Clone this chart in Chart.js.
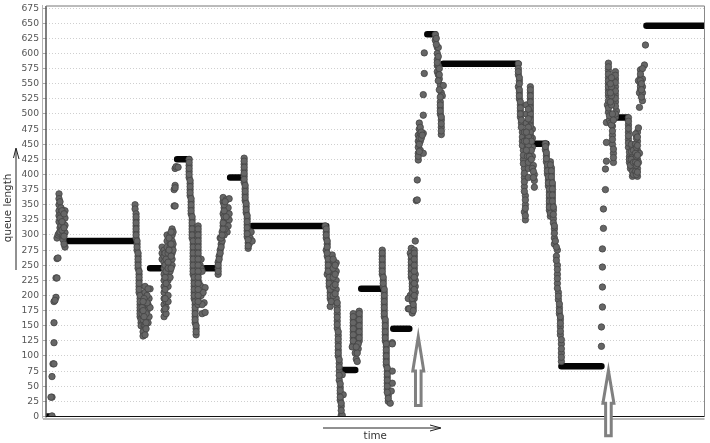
<!DOCTYPE html>
<html><head><meta charset="utf-8">
<style>html,body{margin:0;padding:0;background:#fff}#w{width:710px;height:443px;position:relative}#c{filter:blur(0.45px)}</style>
<script src="https://cdn.jsdelivr.net/npm/chart.js@4"></script>
</head><body><div id="w"><canvas id="c" width="710" height="443"></canvas></div>
<script>
// queue length levels where the queue is held flat: [start time, end time, queue length]
const flatRuns=[[0,6,0],[19,89,290],[104,115,245],[131,143,425],[159,169,245],[184,197,395],[206,280,315],[297,309,77],[315,336,211],[347,363,145],[381,389,632],[397,472,583],[488,500,451],[515,555,83],[571,581,494],[600,658,646]];
// samples: [time, queue length]
const rampA=[[6,1],[6,32],[5,32],[6,66],[7,87],[8,87],[8,122],[8,155],[8,190],[10,197],[9,192],[10,229],[11,229],[11,261],[12,262],[11,295],[12,300],[13,303]];
const clusterA=[[13,368],[13,360],[13,350],[13,340],[13,332],[13,322],[14,312],[14,305],[15,345],[15,335],[15,325],[15,315],[17,340],[17,330],[17,320],[17,310],[17,300],[17,292],[19,340],[19,328],[19,316],[19,304],[19,280],[18,285],[14,355],[14,328],[16,340],[16,322],[16,308],[18,335],[18,312],[18,298]];
const dropB=[[89,350],[89,343],[90,335],[90,325],[90,315],[90,305],[90,295],[91,285],[91,275],[92,265],[92,255],[92,245],[93,235],[93,225],[93,215],[93,205],[94,195],[94,185],[94,175],[94,165],[95,155],[95,150],[90,330],[90,320],[90,310],[90,300],[91,290],[91,280],[92,270],[92,260],[92,250],[93,240],[93,230],[93,220],[93,210],[94,200],[94,190],[94,180],[94,170],[95,160]];
const blobB=[[96,170],[97,160],[98,150],[98,145],[97,140],[97,133],[99,135],[99,150],[99,165],[98,180],[100,190],[99,205],[99,215],[102,185],[101,175],[103,195],[104,180],[103,165],[102,155],[100,170],[101,200],[104,211],[102,211],[96,180],[97,175],[98,165],[100,155],[100,145],[101,188],[98,195],[97,190]];
const clusterC=[[116,280],[116,270],[116,260],[118,275],[118,265],[118,255],[118,245],[118,235],[118,225],[118,215],[118,205],[118,195],[118,185],[118,175],[118,165],[120,170],[120,180],[120,190],[122,235],[122,225],[122,215],[122,200],[122,190],[121,300],[121,290],[121,280],[124,300],[124,290],[124,280],[124,270],[124,260],[124,250],[124,240],[124,230],[126,310],[126,300],[126,290],[126,280],[126,270],[126,260],[126,250],[127,305],[127,285],[127,275],[119,270],[119,250],[119,230],[119,210],[119,195],[119,178],[120,260],[120,240],[120,220],[122,270],[122,255],[122,245],[123,295],[123,275],[125,305],[125,285],[125,265],[125,245]];
const jumpD=[[128,348],[129,348],[128,375],[129,382],[129,378],[129,410],[130,413],[132,412]];
const dropD=[[143,425],[143,415],[143,405],[143,395],[144,385],[144,375],[144,365],[145,355],[145,345],[145,335],[146,325],[146,315],[146,305],[146,295],[147,285],[147,275],[147,265],[147,255],[147,245],[147,235],[148,225],[148,215],[148,205],[148,195],[149,185],[149,175],[149,165],[149,155],[150,145],[150,135],[143,420],[143,410],[143,400],[144,390],[144,380],[144,370],[145,360],[145,350],[145,340],[146,330],[146,320],[146,310],[146,300],[147,290],[147,280],[147,270],[147,260],[147,250],[147,240],[148,230],[148,220],[148,210],[148,200],[149,190],[149,180],[149,170],[149,160],[150,150],[150,140]];
const columnD=[[152,315],[152,305],[152,295],[152,285],[152,275],[152,265],[152,255],[152,245],[152,235],[152,225],[152,215],[152,205],[152,195],[152,185],[154,250],[155,260],[155,245],[156,240],[153,220],[155,215],[155,200],[159,213],[157,205],[158,188],[156,185],[156,170],[159,172],[152,310],[152,300],[152,290],[152,280],[152,270],[152,260],[152,250],[152,240],[152,230],[152,220],[152,210],[152,200],[152,190]];
const riseE=[[172,235],[172,245],[172,255],[173,265],[174,275],[175,285],[174,295],[176,305],[176,290],[177,315],[178,325],[177,335],[178,345],[177,355],[177,362],[180,358],[180,340],[180,320],[181,305],[183,360],[182,345],[183,325],[182,315],[178,300],[179,310],[183,335],[172,240],[172,250],[173,260],[174,270],[175,280],[175,295],[176,300],[177,310],[177,320],[178,330],[178,340],[178,350],[179,355],[180,330]];
const dropF=[[198,427],[198,417],[198,407],[198,397],[198,387],[199,377],[199,367],[199,357],[200,347],[200,337],[201,327],[201,317],[201,307],[201,297],[202,287],[202,278],[203,285],[204,295],[205,305],[206,290],[198,422],[198,412],[198,402],[198,392],[199,382],[199,372],[199,362],[200,352],[200,342],[201,332],[201,322],[201,312],[201,302],[202,292],[202,282]];
const dropG=[[279,315],[280,305],[280,295],[281,285],[280,275],[281,265],[282,255],[282,245],[281,235],[283,225],[283,215],[284,205],[284,195],[284,182],[286,267],[285,250],[286,235],[286,220],[286,205],[286,190],[288,255],[288,240],[288,225],[288,210],[288,195],[290,254],[290,240],[290,225],[290,210],[290,195],[291,182],[291,170],[291,158],[291,146],[292,134],[292,122],[292,110],[292,100],[293,88],[293,75],[293,60],[294,48],[294,38],[294,27],[295,17],[295,2],[297,36],[296,69],[296,2],[280,310],[280,300],[281,290],[281,280],[281,270],[282,260],[282,250],[282,240],[283,230],[283,220],[284,210],[284,200],[285,190],[287,260],[287,245],[287,230],[287,215],[287,200],[289,250],[289,235],[289,218],[289,203],[291,188],[291,176],[291,164],[291,152],[292,140],[292,128],[292,116],[292,105],[293,94],[293,82],[293,68],[294,54],[294,43],[294,32],[295,22],[295,10]];
const clusterH=[[307,170],[307,160],[307,150],[307,140],[307,130],[307,120],[306,115],[309,105],[310,95],[311,91],[310,125],[313,174],[313,165],[313,155],[313,145],[313,135],[313,125],[312,112],[309,150],[310,135],[307,165],[307,155],[307,145],[307,135],[307,125],[313,170],[313,160],[313,150],[313,140],[313,130],[312,120],[311,105],[310,115]];
const dropI=[[336,275],[336,265],[336,255],[336,245],[336,235],[337,225],[337,215],[338,205],[338,195],[338,185],[338,175],[338,165],[339,155],[339,145],[339,135],[339,125],[340,115],[340,105],[340,95],[340,85],[341,75],[341,65],[341,55],[341,45],[342,35],[342,25],[344,22],[346,122],[346,120],[346,75],[346,55],[345,42],[336,270],[336,260],[336,250],[336,240],[337,230],[337,220],[338,210],[338,200],[338,190],[338,180],[338,170],[339,160],[339,150],[339,140],[339,130],[340,120],[340,110],[340,100],[340,90],[341,80],[341,70],[341,60],[341,50],[341,40],[342,30]];
const clusterJ=[[369,290],[365,278],[364,270],[365,260],[365,250],[365,240],[365,230],[366,220],[366,210],[364,200],[366,190],[367,180],[366,171],[368,275],[368,265],[368,255],[368,245],[369,235],[369,225],[369,215],[369,205],[362,195],[368,195],[362,178],[363,178],[365,265],[365,255],[365,245],[365,235],[366,225],[366,215],[366,205],[366,195],[367,185],[367,175],[368,270],[368,260],[368,250],[368,240],[368,230],[368,220],[368,210],[368,200]];
const rampK=[[370,357],[371,358],[371,391],[372,424],[372,435],[372,445],[372,455],[372,465],[373,475],[373,485],[374,478],[374,468],[374,455],[374,440],[372,430],[377,468],[377,435],[377,498],[377,532],[378,567],[378,601],[373,450],[373,460],[373,438],[375,470],[375,460],[376,465]];
const dropK=[[389,631],[389,622],[391,610],[391,600],[391,590],[391,580],[391,570],[392,610],[392,595],[392,580],[392,565],[393,575],[393,558],[394,548],[395,535],[394,520],[394,510],[394,500],[395,490],[395,478],[395,466],[397,547],[396,530],[390,615],[390,625],[391,585],[392,555],[393,565],[393,540],[394,528],[394,515],[394,505],[395,495],[395,484],[395,472]];
const dropL=[[472,583],[472,575],[472,565],[473,555],[472,545],[473,535],[473,525],[474,515],[474,505],[474,495],[475,485],[476,470],[476,455],[477,440],[477,425],[478,410],[478,395],[478,380],[479,365],[479,350],[478,338],[479,325],[472,570],[473,560],[473,550],[473,540],[473,530],[474,520],[474,510],[474,500],[475,490],[475,478],[476,462],[476,448],[477,432],[477,418],[478,402],[478,388],[478,372],[479,358],[479,344],[479,332]];
const clusterL=[[484,545],[484,535],[484,525],[484,515],[484,505],[484,495],[484,485],[484,475],[484,465],[484,455],[480,515],[480,500],[480,485],[478,470],[478,455],[481,445],[481,430],[482,410],[482,395],[482,420],[486,475],[486,460],[486,445],[486,430],[487,415],[488,400],[488,390],[488,379],[483,440],[481,460],[484,540],[484,530],[484,520],[484,510],[484,500],[484,490],[484,480],[484,470],[484,460],[482,508],[482,492],[482,478],[482,462],[482,448],[483,430],[485,455],[485,440],[485,425],[486,410],[487,405],[487,395],[480,470],[480,455],[480,440]];
const dropM=[[499,451],[499,441],[500,431],[500,421],[501,411],[501,401],[502,391],[502,381],[503,371],[503,361],[503,351],[503,341],[504,331],[504,421],[505,411],[505,401],[505,391],[506,381],[506,371],[506,361],[506,351],[507,341],[507,327],[507,320],[508,310],[508,295],[508,285],[511,275],[510,265],[511,250],[511,235],[511,220],[512,205],[512,193],[513,180],[513,170],[514,160],[514,148],[514,135],[515,120],[515,105],[515,91],[499,446],[500,436],[500,426],[501,416],[501,406],[502,396],[502,386],[503,376],[503,366],[503,356],[503,346],[504,336],[504,416],[505,406],[505,396],[506,386],[506,376],[506,366],[506,356],[507,346],[507,334],[508,315],[508,303],[509,290],[510,280],[510,258],[511,243],[511,228],[511,212],[512,199],[513,186],[513,175],[514,165],[514,154],[514,141],[515,127],[515,112],[515,98]];
const rampN=[[555,116],[555,148],[556,181],[556,214],[556,247],[556,277],[557,311],[557,343],[559,375],[559,409],[560,422],[560,453],[560,486],[562,584],[562,572],[562,560],[562,550],[562,540],[562,530],[561,515],[562,503],[563,490],[564,485],[566,480],[566,465],[566,450],[567,435],[567,420],[569,570],[569,558],[569,545],[569,532],[569,520],[570,505],[569,495],[562,578],[562,566],[562,555],[562,545],[562,535],[562,522],[562,510],[563,497],[565,482],[566,472],[566,458],[567,442],[567,428],[569,564],[569,552],[569,538],[569,526],[569,513],[569,500],[565,560],[565,545],[565,530],[565,515],[566,500],[567,490],[564,550],[564,535],[564,520]];
const clusterP=[[582,494],[582,482],[582,470],[582,458],[582,445],[583,430],[583,420],[584,410],[586,445],[586,430],[586,415],[586,397],[588,425],[588,410],[591,470],[591,455],[591,440],[591,425],[591,410],[591,397],[592,477],[589,467],[593,435],[592,420],[582,488],[582,476],[582,464],[582,452],[583,437],[583,425],[584,415],[585,450],[585,438],[585,425],[586,405],[587,440],[587,420],[587,400],[589,450],[589,435],[589,420],[589,405],[590,460],[590,445],[590,430],[590,415],[590,400],[591,462],[591,448],[591,432],[591,418],[591,404]];
const riseQ=[[594,573],[594,560],[594,550],[594,540],[593,535],[593,511],[596,558],[596,545],[596,535],[596,522],[598,581],[599,614],[596,575],[592,555],[594,566],[594,555],[594,545],[595,550],[595,540],[595,528]];
const clusters=[rampA,clusterA,dropB,blobB,clusterC,jumpD,dropD,columnD,riseE,dropF,dropG,clusterH,dropI,clusterJ,rampK,dropK,dropL,clusterL,dropM,rampN,clusterP,riseQ];
const yTicks=[0,25,50,75,100,125,150,175,200,225,250,275,300,325,350,375,400,425,450,475,500,525,550,575,600,625,650,675];
// annotation arrows: [time, tail queue length, tip queue length]
const markerArrows=[[372,18,132],[562,-32,76]];

const samples=clusters.flat().map(p=>({x:p[0],y:p[1]}));
const flats=[];
flatRuns.forEach(r=>{flats.push({x:r[0],y:r[2]},{x:r[1],y:r[2]},{x:r[1],y:null});});

const annotate={id:'annotate',afterDraw(ch){
  const {ctx,chartArea:a,scales:{x,y}}=ch;ctx.save();
  ctx.lineCap='butt';
  const line=(x1,y1,x2,y2,c,w)=>{ctx.strokeStyle=c;ctx.lineWidth=w;ctx.beginPath();ctx.moveTo(x1,y1);ctx.lineTo(x2,y2);ctx.stroke();};
  line(a.left-3.5,a.top-1,a.left-3.5,a.bottom+2,'#b5b5b5',1);
  line(a.left,a.top,a.left,a.bottom+1,'#555',1.5);
  line(a.left,a.top,a.right,a.top,'#777',1);
  line(a.right,a.top,a.right,a.bottom,'#888',1);
  line(a.left-3,a.bottom+2.5,a.right,a.bottom+2.5,'#bbb',2);
  line(a.left,a.bottom,a.right,a.bottom,'#111',1.2);
  // axis direction arrows
  line(16,270,16,149,'#222',1);
  ctx.beginPath();ctx.moveTo(13.5,158);ctx.lineTo(16,148);ctx.lineTo(19,159);ctx.strokeStyle='#222';ctx.stroke();
  line(323,428,440,428,'#222',1);
  ctx.beginPath();ctx.moveTo(430,425);ctx.lineTo(441,428);ctx.lineTo(430,431);ctx.stroke();
  // grey up arrows
  markerArrows.forEach(m=>{
    const cx=x.getPixelForValue(m[0]),b=y.getPixelForValue(m[1]),t=y.getPixelForValue(m[2]);
    const hb=t+(b-t)*0.5;
    ctx.beginPath();ctx.moveTo(cx,t);ctx.lineTo(cx+5.5,hb);ctx.lineTo(cx+2.8,hb);ctx.lineTo(cx+2.8,b);ctx.lineTo(cx-2.8,b);ctx.lineTo(cx-2.8,hb);ctx.lineTo(cx-5.5,hb);ctx.closePath();
    ctx.fillStyle='#fff';ctx.fill();ctx.strokeStyle='#808080';ctx.lineWidth=3;ctx.stroke();
  });
  ctx.restore();
}};

new Chart(document.getElementById('c'),{
  type:'scatter',
  data:{datasets:[
    {label:'samples',data:samples,showLine:false,pointRadius:3.2,pointBackgroundColor:'#666',pointBorderColor:'#444',pointBorderWidth:0.8},
    {label:'held',data:flats,showLine:true,spanGaps:false,borderColor:'#050505',borderWidth:6.5,borderCapStyle:'round',pointRadius:0,tension:0}
  ]},
  options:{
    responsive:false,animation:false,
    layout:{padding:{top:6,right:5.5,left:0,bottom:0}},
    plugins:{legend:{display:false},tooltip:{enabled:false}},
    scales:{
      x:{type:'linear',min:0,max:658,
        ticks:{display:false},
        grid:{display:false},border:{display:false},
        afterFit(s){s.height=26.5;},
        title:{display:true,text:'time',color:'#333',font:{family:'DejaVu Sans',size:10.3},padding:{top:0,bottom:0}}},
      y:{type:'linear',min:0,max:678.5,
        afterBuildTicks(s){s.ticks=yTicks.map(v=>({value:v}));},
        afterFit(s){s.width=46;s.paddingTop=0;s.paddingBottom=0;},
        ticks:{stepSize:25,autoSkip:false,includeBounds:false,color:'#555',padding:4,font:{family:'DejaVu Sans',size:9.2}},
        grid:{color:'#cfcfcf',lineWidth:1,tickColor:'#aaa',tickLength:3,tickBorderDash:[]},
        border:{display:false,dash:[1,2]},
        title:{display:true,text:'  queue length',color:'#333',font:{family:'DejaVu Sans',size:10.3},padding:{top:2,bottom:0}}}
    }
  },
  plugins:[annotate]
});
</script></body></html>
